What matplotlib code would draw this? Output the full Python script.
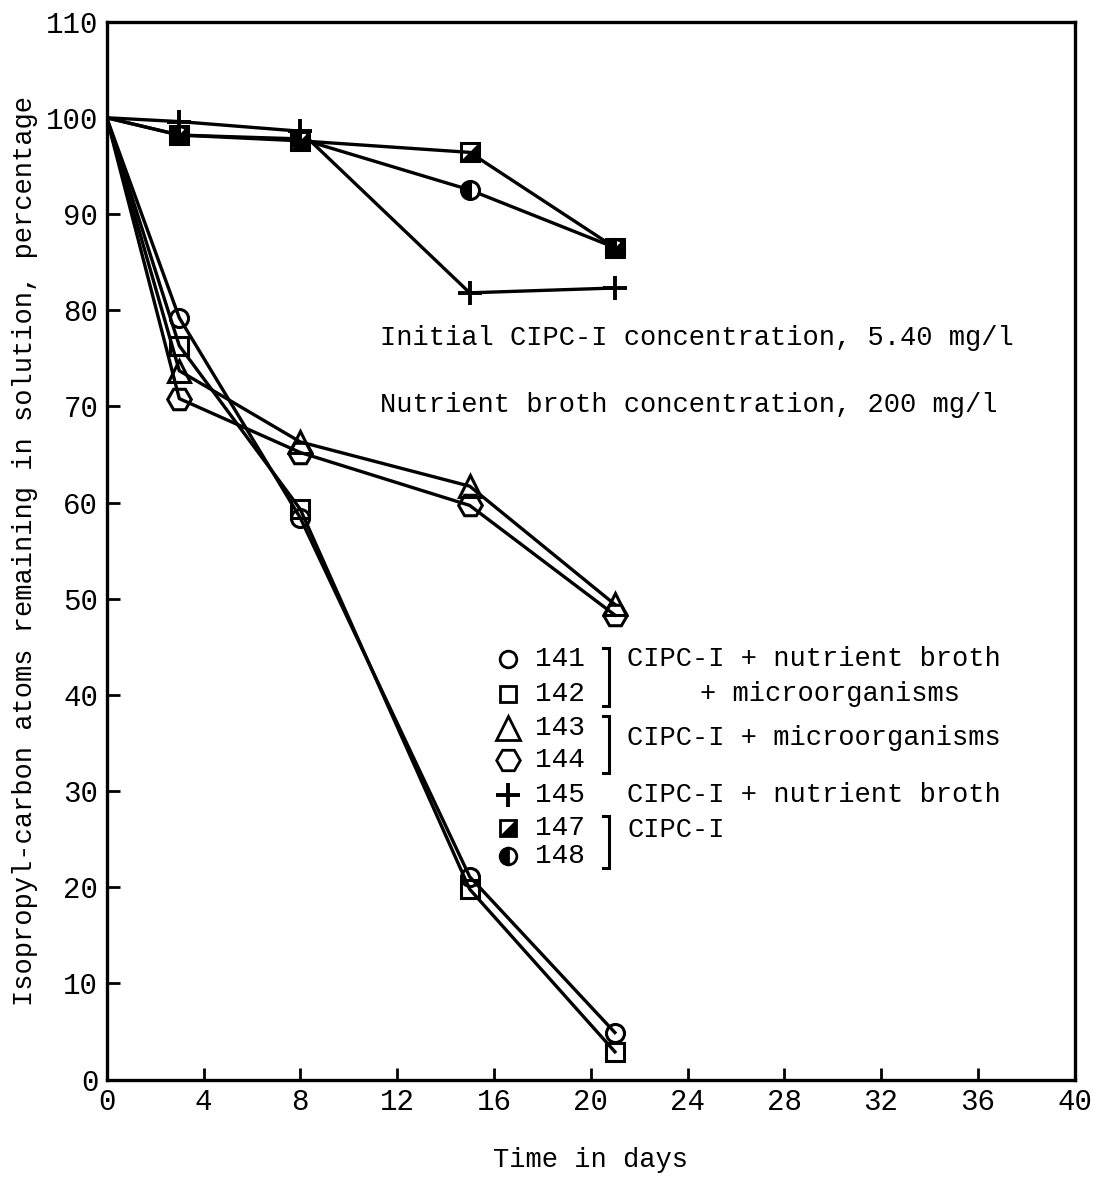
# Isopropyl-carbon remaining in solution over time for the CIPC-I flasks

import numpy as np
import matplotlib.pyplot as plt

plt.rcParams["font.family"] = ["Liberation Mono", "DejaVu Sans Mono"]

days = [0, 3, 8, 15, 21]

flask_141 = [100, 79.2, 58.4, 21.1, 4.9]
flask_142 = [100, 76.3, 59.3, 19.8, 2.9]
flask_143 = [100, 73.7, 66.3, 61.7, 49.4]
flask_144 = [100, 70.8, 65.2, 59.7, 48.3]
flask_145 = [100, 99.6, 98.6, 81.8, 82.3]
flask_147 = [100, 98.2, 97.6, 96.4, 86.5]
flask_148 = [100, 98.2, 97.8, 92.5, 86.5]

legend_ids = ["141", "142", "143", "144", "145", "147", "148"]
legend_y = [43.7, 40.1, 36.6, 33.2, 29.6, 26.2, 23.3]

x_ticks = np.arange(0, 41, 4)
y_ticks = np.arange(0, 111, 10)

# lower-right triangle used for the half-shaded square
tri = [(-1, -1), (1, -1), (1, 1), (-1, -1)]

fig = plt.figure(figsize=(11, 11.97), dpi=100)
ax = fig.add_axes([0.097, 0.098, 0.88, 0.884])

lw = 2.4
ms = 13
mew = 2.2
k = "black"
every = slice(1, None)  # no symbol at the common starting point

ax.plot(days, flask_141, color=k, lw=lw, marker="o", ms=ms, mfc="none", mec=k, mew=mew,
        markevery=every)
ax.plot(days, flask_142, color=k, lw=lw, marker="s", ms=ms, mfc="none", mec=k, mew=mew,
        markevery=every)
ax.plot(days, flask_143, color=k, lw=lw, marker="^", ms=ms + 3, mfc="none", mec=k, mew=mew,
        markevery=every)
ax.plot(days, flask_144, color=k, lw=lw, marker="H", ms=ms + 4, mfc="none", mec=k, mew=mew,
        markevery=every)
ax.plot(days, flask_145, color=k, lw=lw, marker="+", ms=ms + 4, mec=k, mew=2.8,
        markevery=every)
ax.plot(days, flask_148, color=k, lw=lw, marker="o", ms=ms, mfc=k, mfcalt="white",
        fillstyle="left", mec=k, mew=mew, markevery=every)
ax.plot(days, flask_147, color=k, lw=lw, marker="s", ms=ms, mfc="none", mec=k, mew=mew,
        markevery=every)
ax.plot(days[1:], flask_147[1:], ls="none", marker=tri, ms=ms - 2, mfc=k, mec=k, mew=1)

# legend drawn by hand with brackets
mx = 16.6
legend_markers = [
    dict(marker="o", ms=12, mfc="none", mew=2),
    dict(marker="s", ms=12, mfc="none", mew=2),
    dict(marker="^", ms=17, mfc="none", mew=2),
    dict(marker="H", ms=17, mfc="none", mew=2),
    dict(marker="+", ms=17, mew=2.8),
    dict(marker="s", ms=12, mfc="none", mew=2),
    dict(marker="o", ms=12, mfc=k, mfcalt="white", fillstyle="left", mew=2),
]
for y, st in zip(legend_y, legend_markers):
    ax.plot([mx], [y], ls="none", color=k, mec=k, **st)
ax.plot([mx], [legend_y[5]], ls="none", marker=tri, ms=10, mfc=k, mec=k, mew=1)

for y, name in zip(legend_y, legend_ids):
    ax.text(17.7, y, name, fontsize=20, va="center", ha="left")


def bracket(y0, y1):
    xb = 20.75
    ax.plot([xb - 0.25, xb, xb, xb - 0.25], [y0 + 1.2, y0 + 1.2, y1 - 1.3, y1 - 1.3],
            color=k, lw=2.2, solid_joinstyle="miter")


bracket(legend_y[0], legend_y[1])
bracket(legend_y[2], legend_y[3])
bracket(legend_y[5], legend_y[6])

ax.text(21.5, legend_y[0], "CIPC\u2010I + nutrient broth", fontsize=19.5, va="center")
ax.text(24.5, legend_y[1], "+ microorganisms", fontsize=19.5, va="center")
ax.text(21.5, (legend_y[2] + legend_y[3]) / 2 + 0.6, "CIPC\u2010I + microorganisms",
        fontsize=19.5, va="center")
ax.text(21.5, legend_y[4], "CIPC\u2010I + nutrient broth", fontsize=19.5, va="center")
ax.text(21.5, (legend_y[5] + legend_y[6]) / 2 + 1.2, "CIPC\u2010I", fontsize=19.5, va="center")

ax.text(11.3, 77.1, "Initial CIPC\u2010I concentration, 5.40 mg/l", fontsize=19.5, va="center")
ax.text(11.3, 70.1, "Nutrient broth concentration, 200 mg/l", fontsize=19.5, va="center")

ax.set_xlim(0, 40)
ax.set_ylim(0, 110)
ax.set_xticks(x_ticks)
ax.set_yticks(y_ticks)
ax.tick_params(direction="in", length=9, width=2, labelsize=21, pad=6)
for s in ax.spines.values():
    s.set_linewidth(2.4)

ax.set_xlabel("Time in days", fontsize=19.5, labelpad=22)
ax.set_ylabel("Isopropyl\u2010carbon atoms remaining in solution, percentage",
              fontsize=19.5, labelpad=6)

fig.savefig("out.png", dpi=100)
